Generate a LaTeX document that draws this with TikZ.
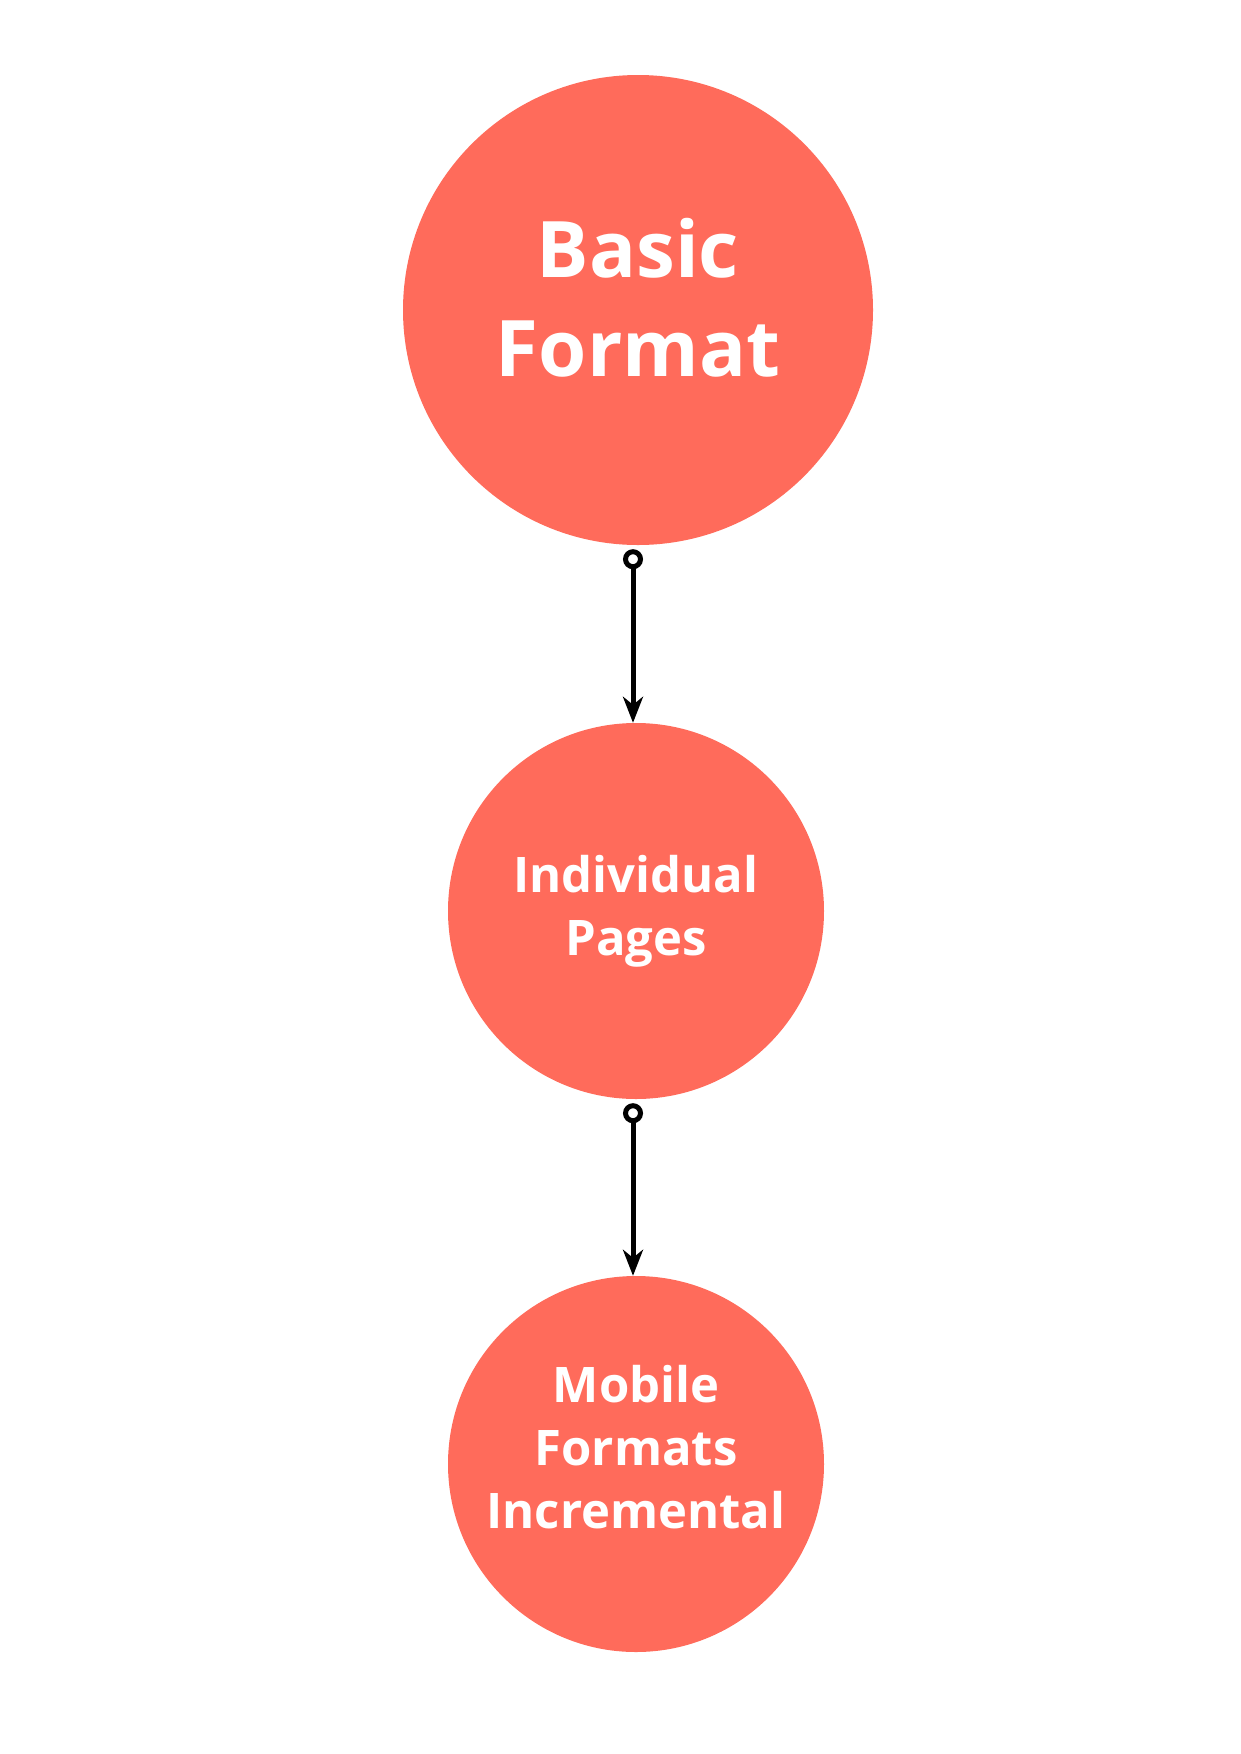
\documentclass[tikz,border=0pt]{standalone}
\usepackage{fontspec}
\setmainfont{Open Sans}
\usetikzlibrary{arrows.meta}
\definecolor{coral}{HTML}{FF6B5B}
\tikzset{
  bubble/.style={circle, fill=coral, draw=none, inner sep=0pt},
  lbl/.style={text=white, align=center, inner sep=0pt},
  bigtxt/.style={lbl, font=\fontsize{78}{99}\selectfont\bfseries},
  smalltxt/.style={lbl, font=\fontsize{49}{63}\selectfont\bfseries},
  conn/.style={line width=5pt, {Circle[open, length=20pt, width=20pt]}-{Stealth[length=26pt, width=20pt, inset=8pt]}, shorten <=4pt}
}
\begin{document}
\begin{tikzpicture}[x=1pt,y=-1pt]
\useasboundingbox (0,0) rectangle (1240,1754);
\node[bubble, minimum size=470pt] (c1) at (638,310) {};
\node[bubble, minimum size=376pt] (c2) at (636,911) {};
\node[bubble, minimum size=376pt] (c3) at (636,1464) {};
\node[bigtxt] (t1) at ([yshift=12pt]c1.center) {Basic\\Format};
\node[smalltxt] (t2) at (c2.center) {Individual\\Pages};
\node[smalltxt] (t3) at ([yshift=17pt]c3.center) {Mobile\\Formats\\Incremental};
\draw[conn] ([xshift=-5pt]c1.south) -- ([xshift=-3pt]c2.north);
\draw[conn] ([xshift=-3pt]c2.south) -- ([xshift=-3pt]c3.north);
\end{tikzpicture}
\end{document}
